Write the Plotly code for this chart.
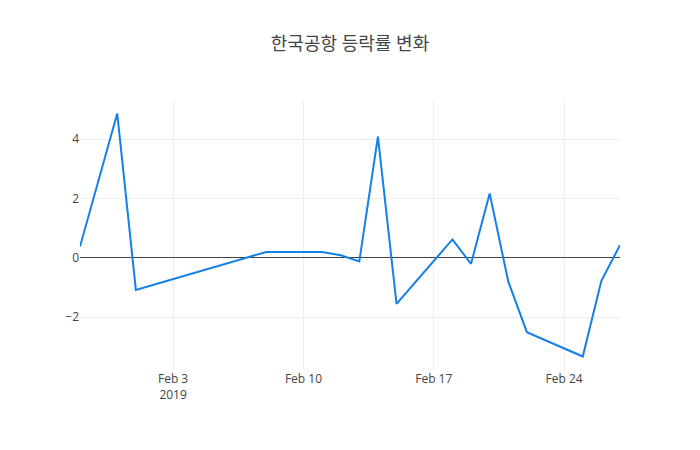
import plotly.graph_objects as go

# trading days (Lunar New Year holiday gap in early Feb)
dates = [
    "2019-01-29", "2019-01-31", "2019-02-01", "2019-02-08",
    "2019-02-11", "2019-02-12", "2019-02-13", "2019-02-14", "2019-02-15",
    "2019-02-18", "2019-02-19", "2019-02-20", "2019-02-21", "2019-02-22",
    "2019-02-25", "2019-02-26", "2019-02-27",
]
# daily change rate (%)
change_rate = [
    0.38, 4.86, -1.08, 0.20,
    0.20, 0.09, -0.12, 4.08, -1.55,
    0.62, -0.20, 2.17, -0.80, -2.50,
    -3.32, -0.77, 0.43,
]

fig = go.Figure(go.Scatter(
    x=dates,
    y=change_rate,
    mode="lines",
    line=dict(color="rgb(18,128,232)", width=2),
))

# the page body adds an 8px margin, so the plot margins are shifted to compensate
fig.update_layout(
    title=dict(text="한국공항 등락률 변화", x=0.4886, xanchor="center",
               y=0.92, yref="container", yanchor="middle",
               font=dict(size=18)),
    width=700,
    height=450,
    margin=dict(l=72, r=88, t=92, b=88),
    paper_bgcolor="white",
    plot_bgcolor="white",
    font=dict(family="Open Sans, Noto Sans CJK KR, sans-serif", size=12, color="#444"),
    showlegend=False,
)
fig.update_xaxes(showgrid=True, gridcolor="#eee", zeroline=False, showline=False,
                 ticks="", dtick=7 * 24 * 3600 * 1000, tick0="2019-02-03")
fig.update_yaxes(showgrid=True, gridcolor="#eee", zeroline=True, zerolinecolor="#444",
                 zerolinewidth=1, showline=False, ticks="")

fig.write_html("out.html")
